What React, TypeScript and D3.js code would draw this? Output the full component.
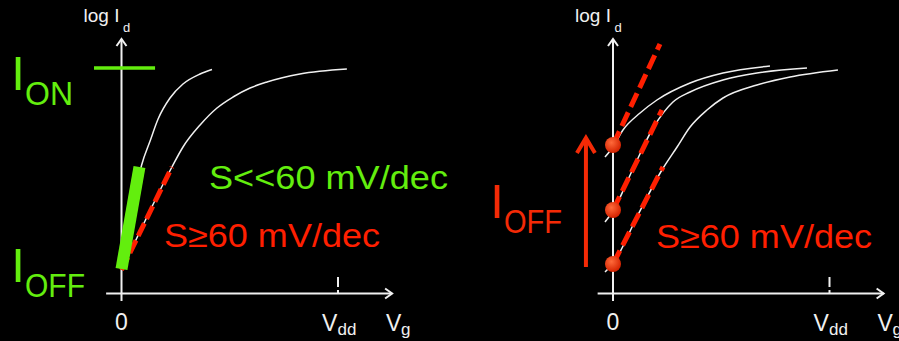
import React, { useEffect, useRef } from 'react';
import * as d3 from 'd3';

type Pt = [number, number];

// x: gate voltage with Vdd = 1, y: log Id in decades above the axis
const steepCurve: Pt[] = [
  [0, 0.98], [0.067, 4.14], [0.093, 5.14], [0.132, 6.1], [0.169, 6.98],
  [0.224, 7.82], [0.284, 8.38], [0.363, 8.78], [0.418, 8.96],
];
const slowCurve: Pt[] = [
  [0, 0.94], [0.113, 2.98], [0.233, 5.06], [0.284, 5.86], [0.363, 6.74],
  [0.441, 7.42], [0.515, 7.86], [0.594, 8.22], [0.672, 8.46], [0.824, 8.78], [1.041, 8.98],
];
const slowTangent: Pt[] = [[0, 0.94], [0.233, 5.06]];
const steepBar: Pt[] = [[0, 0.98], [0.083, 5.06]];
const onLevel: Pt[] = [[-0.127, 9.02], [0.155, 9.02]];

const shiftedCurves: Pt[][] = [
  [[-0.037, 5.46], [0, 5.86], [0.046, 6.54], [0.125, 7.22], [0.203, 7.74],
    [0.356, 8.42], [0.508, 8.82], [0.725, 9.1]],
  [[-0.037, 2.86], [0, 3.3], [0.092, 4.98], [0.185, 6.62], [0.277, 7.66],
    [0.356, 8.06], [0.508, 8.54], [0.665, 8.82], [0.896, 9.02]],
  [[-0.037, 0.86], [0, 1.2], [0.115, 3.14], [0.226, 4.94], [0.296, 5.86],
    [0.356, 6.66], [0.434, 7.34], [0.508, 7.82], [0.665, 8.34], [0.818, 8.66], [1.039, 8.94]],
];
const shiftedTangents: Pt[][] = [
  [[0, 5.94], [0.217, 9.98]],
  [[0, 3.34], [0.226, 7.34]],
  [[0, 1.18], [0.231, 5.06]],
];
const offPoints: Pt[] = [[0, 5.94], [0, 3.34], [0, 1.18]];
const offArrow: Pt[] = [[-0.125, 1.06], [-0.125, 6.26]];

const xTickLabels = ['0', 'V', 'dd', 'V', 'g'];
const yAxisLabel = ['log I', 'd'];
const slopeLabels = ['S<<60 mV/dec', 'S≥60 mV/dec'];

const GREEN = '#63ee0e';
const RED = '#ff1f00';
const RED2 = '#f42a06';
const WHITE = '#f0f0f0';
const SANS = '"Liberation Sans", Arial, sans-serif';

const App = () => {
  const ref = useRef<SVGSVGElement>(null);

  useEffect(() => {
    if (!ref.current) return;
    const svg = d3.select(ref.current);
    svg.selectAll('*').remove();

    const defs = svg.append('defs');
    const grad = defs.append('radialGradient').attr('id', 'dot').attr('cx', '40%').attr('cy', '35%').attr('r', '65%');
    grad.append('stop').attr('offset', '0%').attr('stop-color', '#ff6a3a');
    grad.append('stop').attr('offset', '100%').attr('stop-color', '#d42200');

    svg.append('rect').attr('width', 899).attr('height', 341).attr('fill', '#000');

    const y = d3.scaleLinear().domain([0, 10]).range([293.5, 43.5]);
    const xLeft = d3.scaleLinear().domain([0, 1]).range([121.5, 338]);
    const xRight = d3.scaleLinear().domain([0, 1]).range([613, 829.5]);

    const straight = (x: d3.ScaleLinear<number, number>) =>
      d3.line<Pt>().x(d => x(d[0])).y(d => y(d[1]));
    const smooth = (x: d3.ScaleLinear<number, number>) =>
      d3.line<Pt>().x(d => x(d[0])).y(d => y(d[1])).curve(d3.curveMonotoneX);

    // axes, arrow heads, Vdd tick and tick labels shared by both panels
    const drawAxes = (x: d3.ScaleLinear<number, number>) => {
      const g = svg.append('g');
      const x0 = x(0), y0 = y(0);
      g.append('line').attr('x1', x(-0.071)).attr('x2', x(1.25)).attr('y1', y0).attr('y2', y0)
        .attr('stroke', WHITE).attr('stroke-width', 2);
      g.append('line').attr('x1', x0).attr('x2', x0).attr('y1', y(-0.3)).attr('y2', y(10.18))
        .attr('stroke', WHITE).attr('stroke-width', 2);
      const xe = x(1.25), ye = y(10.18);
      g.append('path').attr('d', `M${xe - 7},${y0 - 5}L${xe},${y0}L${xe - 7},${y0 + 5}`)
        .attr('fill', 'none').attr('stroke', WHITE).attr('stroke-width', 2);
      g.append('path').attr('d', `M${x0 - 5},${ye + 7}L${x0},${ye}L${x0 + 5},${ye + 7}`)
        .attr('fill', 'none').attr('stroke', WHITE).attr('stroke-width', 2);
      g.append('line').attr('x1', x(1)).attr('x2', x(1)).attr('y1', y(0.66)).attr('y2', y0)
        .attr('stroke', WHITE).attr('stroke-width', 2).attr('stroke-dasharray', '10,3');

      const txt = (s: string, px: number, py: number, size: number, anchor = 'start') =>
        g.append('text').attr('x', px).attr('y', py).attr('font-family', SANS)
          .attr('font-size', size).attr('fill', WHITE).attr('text-anchor', anchor).text(s);
      txt(xTickLabels[0], x0, 330, 23, 'middle');
      txt(xTickLabels[1], x(1) - 16, 331, 23);
      txt(xTickLabels[2], x(1) - 0.5, 335, 17);
      txt(xTickLabels[3], x(1) + 48, 331, 23);
      txt(xTickLabels[4], x(1) + 63, 335, 17);
      txt(yAxisLabel[0], x0 - 38, 22, 19);
      txt(yAxisLabel[1], x0 + 1.5, 32, 13);
    };

    const bigLabel = (px: number, py: number, sub: string, subLen: number, color: string) => {
      svg.append('text').attr('x', px + 3).attr('y', py).attr('font-family', SANS)
        .attr('font-size', 49).attr('fill', color).attr('text-anchor', 'middle').text('I');
      svg.append('text').attr('x', px + 10).attr('y', py + 15).attr('font-family', SANS)
        .attr('font-size', 33).attr('fill', color)
        .attr('textLength', subLen).attr('lengthAdjust', 'spacingAndGlyphs').text(sub);
    };

    const slopeText = (s: string, px: number, py: number, len: number, color: string) =>
      svg.append('text').attr('x', px).attr('y', py).attr('font-family', SANS)
        .attr('font-size', 33).attr('fill', color)
        .attr('textLength', len).attr('lengthAdjust', 'spacingAndGlyphs').text(s);

    // ---- left panel ----
    drawAxes(xLeft);
    [steepCurve, slowCurve].forEach(c => {
      svg.append('path').attr('d', smooth(xLeft)(c)).attr('fill', 'none')
        .attr('stroke', WHITE).attr('stroke-width', 1.5);
    });
    svg.append('path').attr('d', straight(xLeft)(slowTangent)).attr('fill', 'none')
      .attr('stroke', RED).attr('stroke-width', 5).attr('stroke-dasharray', '14,5');
    svg.append('path').attr('d', straight(xLeft)(steepBar)).attr('fill', 'none')
      .attr('stroke', GREEN).attr('stroke-width', 12);
    svg.append('path').attr('d', straight(xLeft)(onLevel)).attr('fill', 'none')
      .attr('stroke', GREEN).attr('stroke-width', 3.5);
    bigLabel(15, 90, 'ON', 48, GREEN);
    bigLabel(15, 282, 'OFF', 60, GREEN);
    slopeText(slopeLabels[0], 209, 189, 239, GREEN);
    slopeText(slopeLabels[1], 164, 247, 216, RED);

    // ---- right panel ----
    drawAxes(xRight);
    shiftedCurves.forEach(c => {
      svg.append('path').attr('d', smooth(xRight)(c)).attr('fill', 'none')
        .attr('stroke', WHITE).attr('stroke-width', 1.5);
    });
    shiftedTangents.forEach(t => {
      svg.append('path').attr('d', straight(xRight)(t)).attr('fill', 'none')
        .attr('stroke', RED).attr('stroke-width', 5).attr('stroke-dasharray', '15,6');
    });
    svg.selectAll('circle.off').data(offPoints).enter().append('circle')
      .attr('class', 'off').attr('cx', d => xRight(d[0])).attr('cy', d => y(d[1]))
      .attr('r', 8).attr('fill', 'url(#dot)');

    const ax = xRight(offArrow[0][0]);
    const ay0 = y(offArrow[0][1]), ay1 = y(offArrow[1][1]);
    svg.append('line').attr('x1', ax).attr('x2', ax).attr('y1', ay0).attr('y2', ay1 + 1)
      .attr('stroke', RED2).attr('stroke-width', 4);
    svg.append('path').attr('d', `M${ax - 9},${ay1 + 16}L${ax},${ay1 + 1}L${ax + 9},${ay1 + 16}`)
      .attr('fill', 'none').attr('stroke', RED2).attr('stroke-width', 4);

    bigLabel(494, 218, 'OFF', 58, RED2);
    slopeText(slopeLabels[1], 656, 248, 216, RED);
  }, []);

  return (
    <svg
      ref={ref}
      width={899}
      height={341}
      style={{ position: 'absolute', left: 0, top: 0, display: 'block' }}
    />
  );
};

export default App;
